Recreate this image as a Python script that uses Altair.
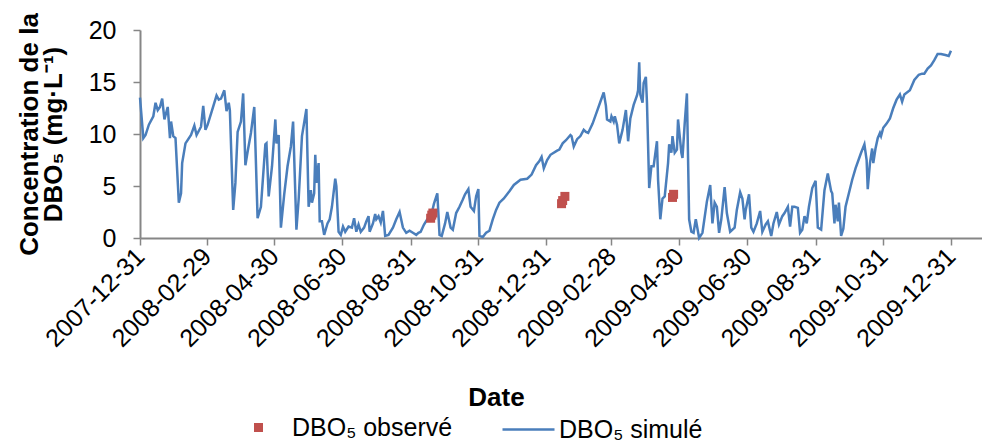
import altair as alt
import pandas as pd

BASE = pd.Timestamp("2007-12-31")

# Simulated BOD5 (days after 2007-12-31, mg/L)
sim_days = [
    0, 3, 5, 8, 12, 14, 16, 18, 20, 22, 25, 27, 28, 30, 32, 35, 37, 38, 41, 46, 49, 51, 55, 57, 59,
    61, 65, 69, 71, 73, 76, 78, 80, 81, 84, 86, 88, 91, 93, 95, 97, 100, 103, 106, 109, 113, 114,
    116, 119, 122, 123, 125, 127, 130, 133, 136, 138, 141, 143, 146, 150, 152, 154, 155, 157, 158,
    159, 161, 162, 164, 166, 169, 171,
    173, 176, 177, 179, 181, 183, 185, 188, 191, 193, 195, 197, 199, 202, 204, 206, 207, 210, 212,
    213, 215, 217, 219, 221, 224, 228, 231, 234, 237, 240, 243, 246, 249, 251, 253, 256, 259, 263,
    265, 268, 270, 272, 275, 277, 280, 282, 285, 288, 291, 293, 296, 298, 301, 303, 305, 306, 309,
    312, 315, 318, 321, 324, 328, 333, 337,
    343, 349, 353, 357, 360, 362, 364, 367, 370, 376, 378, 381, 384, 388, 389, 391, 394, 397, 400,
    402, 404, 408, 412, 415, 418, 420, 421, 424, 425, 427, 428, 430, 432, 435, 438, 440, 442, 445,
    448, 449, 450, 451, 453, 454, 456, 457, 459, 461, 463, 466, 467, 469, 471, 473, 476, 477, 479,
    480, 482, 484, 485, 488, 489, 491, 493, 495, 497, 499, 501, 504, 507,
    511, 514, 516, 518, 520, 522, 524, 527, 529, 532, 536, 538, 541, 543, 545, 546, 549, 551, 553,
    556, 559, 561, 564, 566, 569, 571, 574, 576, 579, 581, 584, 586, 588, 590, 593, 595, 597, 599,
    601, 603, 606, 609, 611, 614, 617, 620, 623, 624, 626, 627, 629, 630, 632, 634, 636, 639, 642,
    645, 650, 653, 655, 656, 658, 660, 661, 663, 665, 667, 668, 670, 673, 676, 679, 682, 685, 687,
    689, 694, 698, 702, 705, 707, 710, 713, 716, 719, 722, 726, 729, 731,
]
sim_values = [
    13.5, 9.6, 9.9, 10.9, 11.7, 13.0, 12.3, 12.6, 13.4, 11.4, 12.6, 9.6, 11.2, 9.8, 9.6, 3.4, 4.3,
    7.2, 9.1, 9.9, 10.8, 9.9, 10.7, 12.7, 10.4,
    10.9, 12.3, 13.7, 13.3, 13.4, 14.2, 12.2, 13.0, 12.3, 2.7, 5.3, 10.2, 11.2, 13.9, 7.0, 8.3, 10.1,
    12.6, 1.9, 3.0, 9.0, 9.1,
    4.0, 6.9, 11.4, 9.1, 9.9, 1.0, 4.2, 6.9, 8.8, 11.2, 0.8, 3.7, 9.8, 12.4, 3.0, 4.6, 3.4, 4.3, 8.0,
    5.3, 7.2, 1.6, 1.6, 0.3, 1.4, 1.8,
    3.0, 5.7, 5.0, 0.6, 0.3, 1.1, 0.6, 1.1, 1.0, 1.9, 0.6, 1.3, 0.6, 1.0, 1.6, 2.1, 0.6, 1.4, 2.3,
    1.8, 2.1, 1.5, 2.6, 0.2, 0.3, 1.0, 1.8, 2.5, 1.0, 0.5, 0.7, 0.5, 0.3, 0.5, 0.6, 1.3, 1.8, 2.4,
    3.3, 4.3, 0.3, 0.2, 1.4, 2.5, 1.0, 0.8, 2.4, 3.0, 3.7, 4.2, 4.7, 3.0, 2.6, 4.0, 4.7, 0.2, 0.1,
    0.5, 0.7, 1.8, 2.7, 3.4, 3.8, 4.5, 5.1,
    5.6, 5.7, 6.1, 7.0, 7.4, 7.8, 6.7, 7.5, 8.0, 8.4, 8.5, 9.1, 9.4, 9.9, 9.8, 8.8, 9.5, 9.8, 10.4,
    10.2, 10.1, 11.0, 12.2, 13.1, 14.0, 12.7, 11.4, 11.2, 11.7, 11.2, 11.7, 10.9, 9.1, 10.4, 12.3,
    9.3, 11.5, 12.8,
    13.7, 14.2, 16.9, 13.8, 13.0, 14.9, 15.5, 13.0, 4.8, 6.9, 6.9, 9.3, 5.6, 1.8, 3.8, 4.0, 7.2, 9.0,
    8.2, 9.8, 8.2, 8.5, 11.4, 8.2, 7.7, 11.0, 13.9, 1.8, 0.6, 0.5, 1.8, 0.0, 0.5,
    3.5, 5.1, 1.4, 3.4, 3.0, 0.5, 1.8, 4.9, 2.4, 0.6, 1.0, 2.7, 4.4, 3.8, 1.8, 2.7, 4.2, 1.0, 0.6,
    1.4, 2.6, 0.6, 1.3, 1.6, 0.2, 1.4, 2.5, 1.3, 2.1, 2.4, 3.0, 1.1, 3.0, 3.0, 2.9, 0.5, 0.8, 2.1,
    1.4, 3.0, 4.8, 5.5, 1.0, 0.8, 4.6, 6.2, 4.5, 4.3, 1.4, 3.2, 1.6, 3.4, 0.2, 0.9, 3.0, 4.3, 5.6,
    6.7, 8.2, 9.0, 7.5, 4.7, 7.2, 8.6, 7.2, 8.6, 9.6, 10.1, 9.8, 10.6, 11.0, 11.5, 12.5, 13.3, 13.8,
    13.1, 13.8, 14.2, 15.2, 15.7, 15.8, 15.8, 16.3, 16.6, 17.1, 17.7, 17.7, 17.6, 17.5, 18.0,
]

# Observed BOD5
obs_days = [262, 263, 264, 380, 381, 383, 480, 481]
obs_values = [1.9, 2.2, 2.4, 3.3, 3.6, 4.0, 3.9, 4.2]

tick_labels = [
    "2007-12-31", "2008-02-29", "2008-04-30", "2008-06-30", "2008-08-31", "2008-10-31",
    "2008-12-31", "2009-02-28", "2009-04-30", "2009-06-30", "2009-08-31", "2009-10-31",
    "2009-12-31",
]
obs_name = "DBO\u2085 observ\u00e9"
sim_name = "DBO\u2085 simul\u00e9"
y_ticks = [0, 5, 10, 15, 20]

BLUE = "#4A7EBB"
RED = "#C0504D"
GREY = "#868686"
FONT = "Liberation Sans"
LABEL_SIZE = 25
TITLE_SIZE = 26


def to_iso(d):
    return (BASE + pd.Timedelta(days=d)).strftime("%Y-%m-%d")


def dt(s):
    t = pd.Timestamp(s)
    return alt.DateTime(year=t.year, month=t.month, date=t.day, utc=True)


sim_df = pd.DataFrame({
    "date": [to_iso(d) for d in sim_days],
    "value": sim_values,
    "series": sim_name,
})
obs_df = pd.DataFrame({
    "date": [to_iso(d) for d in obs_days],
    "value": obs_values,
    "series": obs_name,
})

x_scale = alt.Scale(type="utc", domain=[dt("2007-12-31"), dt("2010-01-28")])
y_scale = alt.Scale(domain=[0, 20], nice=False, zero=True)

x_axis = alt.Axis(
    values=[dt(s) for s in tick_labels],
    format="%Y-%m-%d",
    labelAngle=-45,
    labelAlign="right",
    labelBaseline="middle",
    labelPadding=7,
    labelFontSize=LABEL_SIZE,
    labelFont=FONT,
    labelColor="black",
    labelOverlap=False,
    labelBound=False,
    labelFlush=False,
    tickSize=7,
    tickColor=GREY,
    tickWidth=1.5,
    domainColor=GREY,
    domainWidth=2,
    grid=False,
    title="Date",
    titleFont=FONT,
    titleFontSize=TITLE_SIZE,
    titleFontWeight="bold",
    titleColor="black",
    titleX=356,
    titleY=167,
    titleAlign="center",
    titleBaseline="alphabetic",
)

y_axis = alt.Axis(
    values=y_ticks,
    labelFontSize=LABEL_SIZE,
    labelFont=FONT,
    labelColor="black",
    labelPadding=17,
    tickSize=7,
    tickColor=GREY,
    tickWidth=1.5,
    domainColor=GREY,
    domainWidth=2,
    grid=False,
    title=["Concentration de la", "DBO\u2085 (mg\u00b7L\u207b\u00b9)"],
    titleFont=FONT,
    titleFontSize=TITLE_SIZE,
    titleFontWeight="bold",
    titleColor="black",
    titleAngle=-90,
    titleX=-103,
    titleY=104,
    titleAlign="center",
    titleBaseline="alphabetic",
    titleLineHeight=24,
)

line = alt.Chart(sim_df).mark_line(strokeWidth=2.5).encode(
    x=alt.X("date:T", scale=x_scale, axis=x_axis),
    y=alt.Y("value:Q", scale=y_scale, axis=y_axis),
    stroke=alt.Stroke(
        "series:N",
        scale=alt.Scale(domain=[sim_name], range=[BLUE]),
        legend=alt.Legend(
            title=None,
            orient="none",
            legendX=361,
            legendY=372,
            padding=0,
            symbolType="stroke",
            symbolSize=2704,
            symbolStrokeWidth=2.5,
            labelOffset=3,
            labelFont=FONT,
            labelFontSize=LABEL_SIZE,
            labelColor="black",
            labelLimit=400,
        ),
    ),
)

points = alt.Chart(obs_df).mark_point(
    filled=True, shape="square", size=81, opacity=1
).encode(
    x=alt.X("date:T", scale=x_scale),
    y=alt.Y("value:Q", scale=y_scale),
    color=alt.Color(
        "series:N",
        scale=alt.Scale(domain=[obs_name], range=[RED]),
        legend=alt.Legend(
            title=None,
            orient="none",
            legendX=106,
            legendY=385,
            padding=0,
            symbolType="square",
            symbolSize=81,
            symbolOpacity=1,
            labelOffset=21,
            labelFont=FONT,
            labelFontSize=LABEL_SIZE,
            labelColor="black",
            labelLimit=400,
        ),
    ),
)

chart = (
    alt.layer(line, points)
    .resolve_legend(color="independent", stroke="independent")
    .properties(
        width=842,
        height=208,
        autosize=alt.AutoSizeParams(type="none"),
        padding={"left": 140, "top": 30, "right": 0, "bottom": 206},
        background="white",
    )
    .configure_view(stroke=None)
)

chart.save("out.html", embed_options={"renderer": "svg", "actions": False})
